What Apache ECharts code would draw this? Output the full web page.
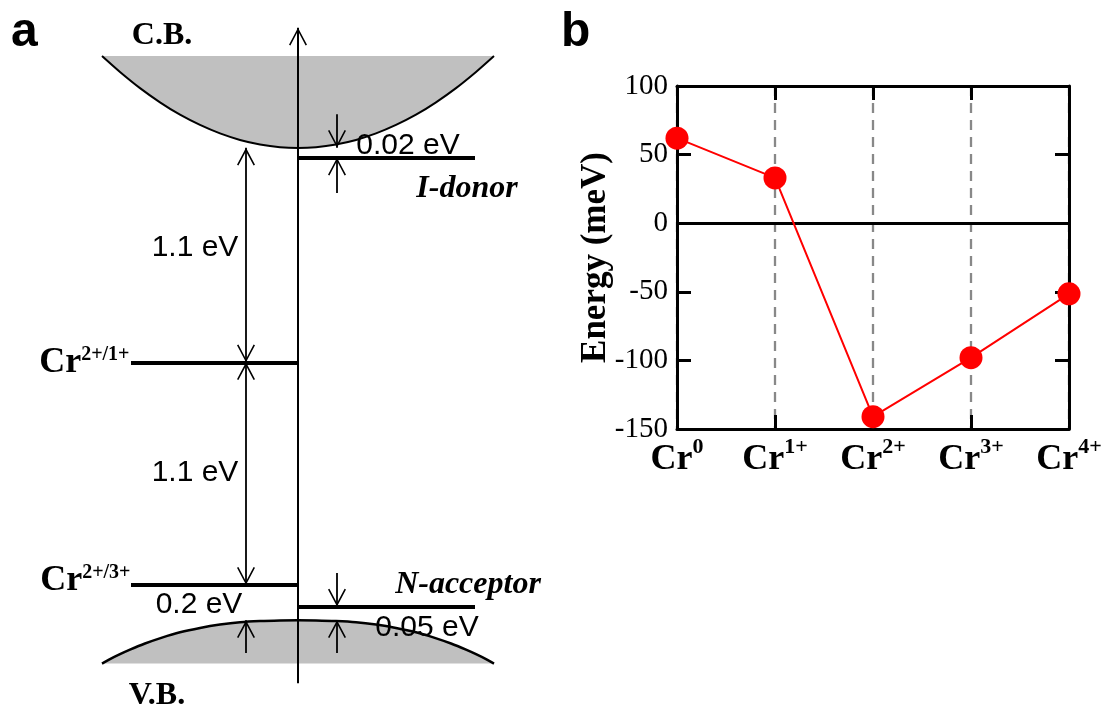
<!DOCTYPE html>
<html>
<head>
<meta charset="utf-8">
<title>Cr levels</title>
<script src="https://cdn.jsdelivr.net/npm/echarts@6.0.0/dist/echarts.min.js"></script>
<style>
  * { margin: 0; padding: 0; }
  html, body { background: #fff; }
  #main { width: 1109px; height: 718px; }
</style>
</head>
<body>
<div id="main"></div>
<script>
  // ---- panel a : band diagram (energy in eV, VB top = 0) ----
  var cbX = [102, 120, 140, 160, 180, 200, 220, 240, 260, 280, 298, 316, 336, 356, 376, 396, 416, 436, 456, 476, 494];
  var cbE = [2.866, 2.785, 2.703, 2.631, 2.568, 2.516, 2.473, 2.440, 2.417, 2.403, 2.399,
             2.403, 2.417, 2.440, 2.473, 2.516, 2.568, 2.631, 2.703, 2.785, 2.866];
  var cbTop = 2.866;
  var vbX = [102, 110, 120, 130, 145, 162, 180, 200, 220, 240, 260, 280, 298,
             316, 336, 356, 376, 396, 416, 434, 451, 466, 476, 486, 494];
  var vbE = [-0.22, -0.197, -0.172, -0.149, -0.118, -0.088, -0.061, -0.039, -0.022, -0.010, -0.004, -0.001, 0,
             -0.001, -0.004, -0.010, -0.022, -0.039, -0.061, -0.088, -0.118, -0.149, -0.172, -0.197, -0.22];
  var vbBottom = -0.22;

  // defect levels: energy and horizontal extent
  var levelE = [2.35, 1.31, 0.18, 0.07];          // I-donor, Cr2+/1+, Cr2+/3+, N-acceptor
  var levelFrom = [298, 131, 131, 298];
  var levelTo = [475, 298, 298, 475];

  // arrows [x, fromE, toE]
  var doubleArrows = [[246, 2.40, 1.31], [246, 1.31, 0.18]];
  var singleArrows = [[337, 2.57, 2.40], [337, 2.17, 2.35], [337, 0.24, 0.07], [337, -0.166, 0], [246, -0.166, 0]];
  var energyAxis = [298, -0.32, 3.01];

  // ---- panel b : energy vs charge state ----
  var chargeStates = ['0', '1+', '2+', '3+', '4+'];
  var energyMeV = [62, 33, -141, -98, -51.5];
  var yMin = -150, yMax = 100, yStep = 50;

  var SERIF = 'Liberation Serif';
  var SANS = 'Liberation Sans';
  // open arrow head, tip at the centre of the symbol box
  var CHEVRON = 'path://M-18,-18L-17.95,-18L-18,-17.95Z M18,18L17.95,18L18,17.95Z M0,0L9,17L7.6,17.75L0,3.4L-7.6,17.75L-9,17Z';

  var annotations = [
    {text: 'C.B.', at: [162, 2.97], kind: 'band'},
    {text: 'V.B.', at: [157, -0.385], kind: 'band'},
    {text: '1.1 eV', at: [195, 1.89], kind: 'gap'},
    {text: '1.1 eV', at: [195, 0.75], kind: 'gap'},
    {text: '0.02 eV', at: [408, 2.41], kind: 'gap'},
    {text: '0.2 eV', at: [199, 0.08], kind: 'gap'},
    {text: '0.05 eV', at: [427, -0.04], kind: 'gap'},
    {text: 'I-donor', at: [467, 2.19], kind: 'defect'},
    {text: 'N-acceptor', at: [468, 0.18], kind: 'defect'},
    {text: 'Cr', sup: '2+/1+', at: [130, 1.31], kind: 'level'},
    {text: 'Cr', sup: '2+/3+', at: [131, 0.20], kind: 'level'}
  ];

  var labelStyles = {
    band: {fontFamily: SERIF, fontWeight: 'bold', fontSize: 32},
    gap: {fontFamily: SANS, fontSize: 30},
    defect: {fontFamily: SERIF, fontWeight: 'bold', fontStyle: 'italic', fontSize: 32}
  };

  function annotationData() {
    return annotations.map(function (a) {
      var label = {show: true, color: '#000', opacity: 1, distance: 0};
      if (a.kind === 'level') {
        label.position = 'left';
        label.formatter = '{b|' + a.text + '}{s|' + a.sup + '}';
        label.rich = {
          b: {fontFamily: SERIF, fontWeight: 'bold', fontSize: 36, lineHeight: 36, color: '#000'},
          s: {fontFamily: SERIF, fontWeight: 'bold', fontSize: 20, lineHeight: 20, verticalAlign: 'top', color: '#000'}
        };
      } else {
        label.position = 'inside';
        label.formatter = a.text;
        Object.assign(label, labelStyles[a.kind]);
      }
      return {value: a.at, label: label};
    });
  }

  function pairs(xs, ys) {
    return xs.map(function (x, i) { return [x, ys[i]]; });
  }

  // grey band region between a curve and a flat edge, drawn once through the axes
  function bandRenderer(xs, es, edge, lineWidth) {
    return function (params, api) {
      if (params.dataIndex !== 0) return null;
      var curve = xs.map(function (x, i) { return api.coord([x, es[i]]); });
      var closing = [api.coord([xs[xs.length - 1], edge]), api.coord([xs[0], edge])];
      return {
        type: 'group',
        children: [
          {type: 'polygon', shape: {points: curve.concat(closing)}, style: {fill: '#c0c0c0'}},
          {type: 'polyline', shape: {points: curve, smooth: 0.3}, style: {stroke: '#000', lineWidth: lineWidth, fill: null}}
        ]
      };
    };
  }

  var chart = echarts.init(document.getElementById('main'));
  chart.setOption({
    animation: false,
    backgroundColor: '#fff',
    grid: [
      {left: 0, top: 10, width: 560, bottom: 19, outerBoundsMode: 'none'},
      {left: 677, right: 40, top: 86, bottom: 289, outerBoundsMode: 'none'}
    ],
    xAxis: [
      {gridIndex: 0, type: 'value', min: 0, max: 560, show: false},
      {
        gridIndex: 1, type: 'category', position: 'bottom', boundaryGap: false,
        data: chargeStates.map(function (c) { return 'Cr' + c; }),
        axisLine: {show: true, onZero: false, lineStyle: {color: '#000', width: 3}},
        axisTick: {show: true, inside: true, length: 14, interval: 0, lineStyle: {color: '#000', width: 3}},
        splitLine: {show: true, interval: 0, lineStyle: {color: '#888', width: 2.3, type: [10, 7]}},
        axisLabel: {
          interval: 0, margin: 7,
          formatter: function (v) { return '{b|Cr}{s|' + v.slice(2) + '}'; },
          rich: {
            b: {fontFamily: SERIF, fontWeight: 'bold', fontSize: 36, lineHeight: 36, padding: [12, 0, 0, 0], color: '#000'},
            s: {fontFamily: SERIF, fontWeight: 'bold', fontSize: 22, lineHeight: 22, verticalAlign: 'top', color: '#000'}
          }
        }
      },
      {
        gridIndex: 1, type: 'category', position: 'top', boundaryGap: false,
        data: chargeStates.map(function (c) { return 'Cr' + c; }),
        axisLine: {show: true, onZero: false, lineStyle: {color: '#000', width: 3}},
        axisTick: {show: true, inside: true, length: 14, interval: 0, lineStyle: {color: '#000', width: 3}},
        axisLabel: {show: false},
        splitLine: {show: false}
      }
    ],
    yAxis: [
      {gridIndex: 0, type: 'value', min: -0.4, max: 3.1, show: false},
      {
        gridIndex: 1, type: 'value', position: 'left', min: yMin, max: yMax, interval: yStep,
        name: 'Energy (meV)', nameLocation: 'middle', nameGap: 64, nameMoveOverlap: false,
        nameTextStyle: {fontFamily: SERIF, fontWeight: 'bold', fontSize: 35, color: '#000'},
        axisLine: {show: true, onZero: false, lineStyle: {color: '#000', width: 3}},
        axisTick: {show: true, inside: true, length: 14, lineStyle: {color: '#000', width: 3}},
        axisLabel: {fontFamily: SERIF, fontSize: 29, color: '#000', margin: 9},
        splitLine: {show: false}
      },
      {
        gridIndex: 1, type: 'value', position: 'right', min: yMin, max: yMax, interval: yStep,
        axisLine: {show: true, onZero: false, lineStyle: {color: '#000', width: 3}},
        axisTick: {show: true, inside: true, length: 14, lineStyle: {color: '#000', width: 3}},
        axisLabel: {show: false},
        splitLine: {show: false}
      }
    ],
    graphic: [
      {type: 'text', left: 11, top: 9, style: {text: 'a', font: 'bold 48px "Liberation Sans"', fill: '#000'}},
      {type: 'text', left: 561, top: 9, style: {text: 'b', font: 'bold 48px "Liberation Sans"', fill: '#000'}}
    ],
    series: [
      // conduction band, filled up to cbTop
      {
        type: 'custom', xAxisIndex: 0, yAxisIndex: 0, z: 2, silent: true,
        encode: {x: 0, y: 1},
        data: pairs(cbX, cbE),
        renderItem: bandRenderer(cbX, cbE, cbTop, 2)
      },
      // valence band, filled down to vbBottom
      {
        type: 'custom', xAxisIndex: 0, yAxisIndex: 0, z: 2, silent: true,
        encode: {x: 0, y: 1},
        data: pairs(vbX, vbE),
        renderItem: bandRenderer(vbX, vbE, vbBottom, 2.5)
      },
      // defect levels
      {
        type: 'lines', coordinateSystem: 'cartesian2d', xAxisIndex: 0, yAxisIndex: 0, z: 4,
        symbol: ['none', 'none'], lineStyle: {color: '#000', width: 4, opacity: 1},
        data: levelE.map(function (e, i) { return {coords: [[levelFrom[i], e], [levelTo[i], e]]}; })
      },
      // energy axis with arrow
      {
        type: 'lines', coordinateSystem: 'cartesian2d', xAxisIndex: 0, yAxisIndex: 0, z: 4,
        symbol: ['none', CHEVRON], symbolSize: 36, lineStyle: {color: '#000', width: 2, opacity: 1},
        data: [{coords: [[energyAxis[0], energyAxis[1]], [energyAxis[0], energyAxis[2]]]}]
      },
      {
        type: 'lines', coordinateSystem: 'cartesian2d', xAxisIndex: 0, yAxisIndex: 0, z: 4,
        symbol: [CHEVRON, CHEVRON], symbolSize: 36, lineStyle: {color: '#000', width: 1.8, opacity: 1},
        data: doubleArrows.map(function (a) { return {coords: [[a[0], a[1]], [a[0], a[2]]]}; })
      },
      {
        type: 'lines', coordinateSystem: 'cartesian2d', xAxisIndex: 0, yAxisIndex: 0, z: 4,
        symbol: ['none', CHEVRON], symbolSize: 36, lineStyle: {color: '#000', width: 1.8, opacity: 1},
        data: singleArrows.map(function (a) { return {coords: [[a[0], a[1]], [a[0], a[2]]]}; })
      },
      // text annotations of panel a
      {
        type: 'scatter', xAxisIndex: 0, yAxisIndex: 0, z: 6, silent: true,
        symbolSize: 1, itemStyle: {color: 'rgba(0,0,0,0)', opacity: 1},
        data: annotationData()
      },
      // panel b
      {
        type: 'line', xAxisIndex: 1, yAxisIndex: 1, z: 5,
        data: energyMeV, symbol: 'circle', symbolSize: 23,
        itemStyle: {color: '#ff0000'}, lineStyle: {color: '#ff0000', width: 2},
        markLine: {
          silent: true, symbol: ['none', 'none'], label: {show: false},
          lineStyle: {color: '#000', width: 3, type: 'solid'},
          data: [{yAxis: 0}]
        }
      }
    ]
  });
</script>
</body>
</html>
